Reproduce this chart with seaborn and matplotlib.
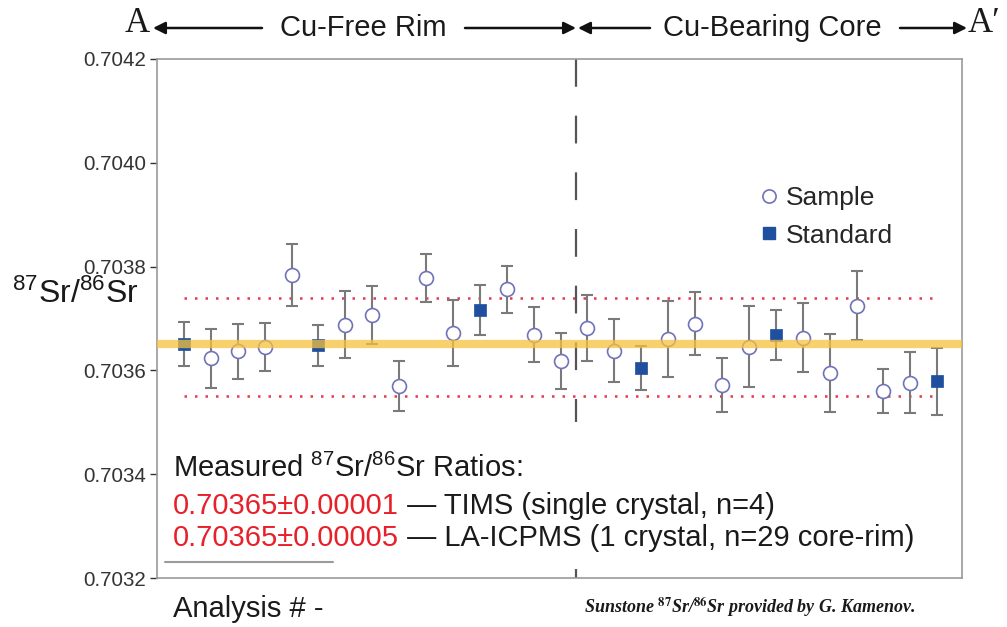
import numpy as np
import pandas as pd
import matplotlib
matplotlib.use("Agg")
import matplotlib.pyplot as plt
from matplotlib.lines import Line2D
from matplotlib.patches import Rectangle, FancyArrowPatch
import seaborn as sns

# ---------------- data ----------------
analysis = list(range(1, 30))
ratio = [0.703651, 0.703623, 0.703637, 0.703645, 0.703784, 0.703648, 0.703688,
         0.703706, 0.703570, 0.703778, 0.703672, 0.703717, 0.703756, 0.703669,
         0.703619, 0.703682, 0.703638, 0.703605, 0.703660, 0.703690, 0.703572,
         0.703646, 0.703669, 0.703663, 0.703595, 0.703725, 0.703560, 0.703576,
         0.703579]
err = [4.2, 5.7, 5.3, 4.7, 5.9, 3.9, 6.5, 5.6, 4.8, 4.7, 6.4, 4.8, 4.5, 5.3,
       5.4, 6.4, 6.1, 4.2, 7.3, 6.1, 5.2, 7.8, 4.8, 6.7, 7.6, 6.7, 4.3, 5.9, 6.4]
err = [e * 1e-5 for e in err]
standard_ids = [1, 6, 12, 18, 23, 29]
kind = ["Standard" if a in standard_ids else "Sample" for a in analysis]
mean_ratio = 0.70365
upper_lim = 0.70374
lower_lim = 0.70355
boundary = 15.58
yticks = [0.7032, 0.7034, 0.7036, 0.7038, 0.7040, 0.7042]

df = pd.DataFrame({"analysis": analysis, "ratio": ratio, "err": err, "kind": kind})

# ---------------- style ----------------
sns.set_style("white")
plt.rcParams["font.family"] = ["Liberation Sans", "DejaVu Sans"]
plt.rcParams["mathtext.fontset"] = "custom"
plt.rcParams["mathtext.rm"] = "Liberation Sans"
plt.rcParams["mathtext.it"] = "Liberation Sans:italic"
plt.rcParams["mathtext.bf"] = "Liberation Sans:bold"

W, H = 1007, 627
fig = plt.figure(figsize=(W / 100, H / 100), dpi=100)
ax = fig.add_axes([157 / W, 1 - 578 / H, (962 - 157) / W, (578 - 59) / H])

# error bars
ax.errorbar(df["analysis"], df["ratio"], yerr=df["err"], fmt="none",
            ecolor="#7a7a7a", elinewidth=1.5, capsize=4.3, capthick=1.5, zorder=2)

# markers
samp = df[df["kind"] == "Sample"]
std = df[df["kind"] == "Standard"]
sns.scatterplot(data=samp, x="analysis", y="ratio", ax=ax, marker="o", s=100,
                facecolor="white", edgecolor="#6f73b8", linewidth=1.2, zorder=3,
                legend=False)
sns.scatterplot(data=std, x="analysis", y="ratio", ax=ax, marker="s", s=85,
                color="#1f4f9e", edgecolor="#1f4f9e", linewidth=0.5, zorder=3,
                legend=False)

# mean band
ax.axhline(mean_ratio, color="#f6c23e", lw=6, alpha=0.75, zorder=4)
# red dotted limits
ax.hlines([upper_lim, lower_lim], 1, 28.8, colors="#e8384f", lw=1.8,
          linestyles=(0, (1, 3.2)), zorder=1)
# boundary dashed line
ax.plot([boundary, boundary], [0.7042, 0.7032], color="#555555", lw=1.6,
        linestyle=(0, (12.5, 13)), zorder=1)

ax.set_xlim(0, 29.92)
ax.set_ylim(0.7032, 0.7042)
ax.set_yticks(yticks)
ax.set_yticklabels([f"{t:.4f}" for t in yticks], fontsize=14.8, color="#333333")
ax.set_xticks([])
ax.set_xlabel("")
ax.set_ylabel("")
ax.tick_params(axis="y", direction="out", length=5, width=1, color="#333333",
               left=True, pad=3)
for sp in ax.spines.values():
    sp.set_color("#9a9a9a")
    sp.set_linewidth(1.2)

# white box behind the text block
ax.add_patch(Rectangle((0.006, (578 - 562) / 519), 0.985, (562 - 422) / 519,
                       transform=ax.transAxes, facecolor="white",
                       edgecolor="none", zorder=5))
ax.plot([0.01, 0.219], [0.031, 0.031], transform=ax.transAxes, color="#9a9a9a",
        lw=1.5, zorder=6)

fs = 21
tx = (173 - 157) / 805
ax.text(tx, (578 - 477) / 519, r"Measured $^{87}$Sr/$^{86}$Sr Ratios:", transform=ax.transAxes,
        fontsize=fs, color="#1a1a1a", va="baseline", ha="left", zorder=7)
r1 = ax.text(tx, (578 - 514) / 519, "0.70365\u00b10.00001", transform=ax.transAxes,
             fontsize=fs, color="#e8202a", va="baseline", ha="left", zorder=7)
ax.annotate(" \u2014 TIMS (single crystal, n=4)", xy=(1, 0), xycoords=r1,
            fontsize=fs, color="#1a1a1a", va="bottom", ha="left", zorder=7)
r2 = ax.text(tx, (578 - 546) / 519, "0.70365\u00b10.00005", transform=ax.transAxes,
             fontsize=fs, color="#e8202a", va="baseline", ha="left", zorder=7)
ax.annotate(" \u2014 LA-ICPMS (1 crystal, n=29 core-rim)", xy=(1, 0), xycoords=r2,
            fontsize=fs, color="#1a1a1a", va="bottom", ha="left", zorder=7)

# legend
handles = [Line2D([], [], marker="o", ls="none", markersize=9.5, markerfacecolor="white",
                  markeredgecolor="#6f73b8", markeredgewidth=1.2, label="Sample"),
           Line2D([], [], marker="s", ls="none", markersize=8.5, markerfacecolor="#1f4f9e",
                  markeredgecolor="#1f4f9e", label="Standard")]
ax.legend(handles=handles, loc="upper left", bbox_to_anchor=((741 - 157) / 805, (578 - 168) / 519),
          frameon=False, fontsize=19, handlelength=0.7, handletextpad=0.3,
          labelspacing=0.5, borderpad=0.2)

# y label
fig.text(12 / W, 1 - 294 / H, r"$^{87}$Sr/$^{86}$Sr", fontsize=23, color="#1a1a1a",
         ha="left", va="center")

# header
hy = 1 - 28 / H
serif = ["Liberation Serif", "DejaVu Serif"]
fig.text(137 / W, 1 - 23 / H, "A", family=serif, fontsize=25, ha="center", va="center", color="#1a1a1a")
fig.text(984 / W, 1 - 23 / H, "A\u2032", family=serif, fontsize=25, ha="center", va="center", color="#1a1a1a")
fig.text(363 / W, hy, "Cu-Free Rim", fontsize=21, ha="center", va="center", color="#1a1a1a")
fig.text(772 / W, hy, "Cu-Bearing Core", fontsize=21, ha="center", va="center", color="#1a1a1a")
arrows = [((262, 28), (153, 28)), ((465, 28), (576, 28)), ((650, 28), (578, 28)), ((900, 28), (967, 28))]
for (x0, y0), (x1, y1) in arrows:
    fig.add_artist(FancyArrowPatch(
        (x0 / W, 1 - y0 / H), (x1 / W, 1 - y1 / H), transform=fig.transFigure,
        arrowstyle="-|>", mutation_scale=18, lw=1.8, color="#111111",
        shrinkA=0, shrinkB=0))

# footer
fig.text(173 / W, 1 - 609 / H, "Analysis # -", fontsize=21, ha="left", va="center", color="#1a1a1a")
fig.text(915 / W, 1 - 607 / H, r"Sunstone $^{\mathbf{87}}$Sr/$^{\mathbf{86}}$Sr provided by G. Kamenov.",
         family=serif, fontsize=13, fontweight="bold", fontstyle="italic",
         math_fontfamily="stix", ha="right", va="center", color="#1a1a1a")

fig.savefig("out.png", dpi=100)
